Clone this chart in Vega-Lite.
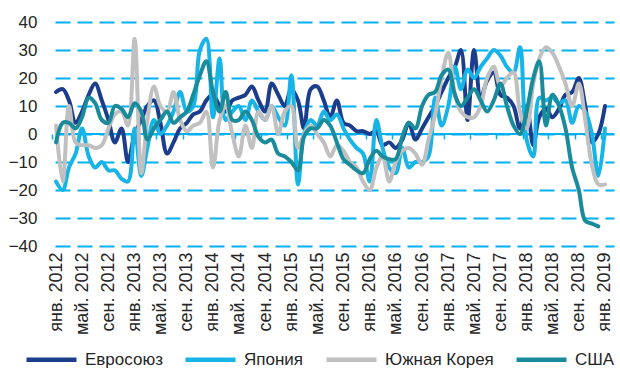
{
 "$schema": "https://vega.github.io/schema/vega-lite/v6.json",
 "width": 559,
 "height": 224,
 "autosize": "none",
 "padding": {"left": 55, "top": 22, "right": 6, "bottom": 126},
 "background": "white",
 "config": {"font": "Liberation Sans", "view": {"stroke": null}},
 "data": {"values": [
{"m":"2012-01-01","s":"Евросоюз","v":15},{"m":"2012-02-01","s":"Евросоюз","v":16},{"m":"2012-03-01","s":"Евросоюз","v":12},{"m":"2012-04-01","s":"Евросоюз","v":4},{"m":"2012-05-01","s":"Евросоюз","v":8},{"m":"2012-06-01","s":"Евросоюз","v":14},{"m":"2012-07-01","s":"Евросоюз","v":18},{"m":"2012-08-01","s":"Евросоюз","v":12},{"m":"2012-09-01","s":"Евросоюз","v":5},{"m":"2012-10-01","s":"Евросоюз","v":-3},{"m":"2012-11-01","s":"Евросоюз","v":2},{"m":"2012-12-01","s":"Евросоюз","v":-10},
{"m":"2013-01-01","s":"Евросоюз","v":0},{"m":"2013-02-01","s":"Евросоюз","v":5},{"m":"2013-03-01","s":"Евросоюз","v":10},{"m":"2013-04-01","s":"Евросоюз","v":12},{"m":"2013-05-01","s":"Евросоюз","v":4},{"m":"2013-06-01","s":"Евросоюз","v":-7},{"m":"2013-07-01","s":"Евросоюз","v":-3},{"m":"2013-08-01","s":"Евросоюз","v":2},{"m":"2013-09-01","s":"Евросоюз","v":4},{"m":"2013-10-01","s":"Евросоюз","v":7},{"m":"2013-11-01","s":"Евросоюз","v":8},{"m":"2013-12-01","s":"Евросоюз","v":12},
{"m":"2014-01-01","s":"Евросоюз","v":14},{"m":"2014-02-01","s":"Евросоюз","v":10},{"m":"2014-03-01","s":"Евросоюз","v":8},{"m":"2014-04-01","s":"Евросоюз","v":12},{"m":"2014-05-01","s":"Евросоюз","v":13},{"m":"2014-06-01","s":"Евросоюз","v":14},{"m":"2014-07-01","s":"Евросоюз","v":17},{"m":"2014-08-01","s":"Евросоюз","v":12},{"m":"2014-09-01","s":"Евросоюз","v":8},{"m":"2014-10-01","s":"Евросоюз","v":18},{"m":"2014-11-01","s":"Евросоюз","v":14},{"m":"2014-12-01","s":"Евросоюз","v":10},
{"m":"2015-01-01","s":"Евросоюз","v":16},{"m":"2015-02-01","s":"Евросоюз","v":12},{"m":"2015-03-01","s":"Евросоюз","v":2},{"m":"2015-04-01","s":"Евросоюз","v":16},{"m":"2015-05-01","s":"Евросоюз","v":17},{"m":"2015-06-01","s":"Евросоюз","v":12},{"m":"2015-07-01","s":"Евросоюз","v":6},{"m":"2015-08-01","s":"Евросоюз","v":12},{"m":"2015-09-01","s":"Евросоюз","v":4},{"m":"2015-10-01","s":"Евросоюз","v":3},{"m":"2015-11-01","s":"Евросоюз","v":1},{"m":"2015-12-01","s":"Евросоюз","v":1},
{"m":"2016-01-01","s":"Евросоюз","v":0},{"m":"2016-02-01","s":"Евросоюз","v":1},{"m":"2016-03-01","s":"Евросоюз","v":-4},{"m":"2016-04-01","s":"Евросоюз","v":-3},{"m":"2016-05-01","s":"Евросоюз","v":-5},{"m":"2016-06-01","s":"Евросоюз","v":-2},{"m":"2016-07-01","s":"Евросоюз","v":4},{"m":"2016-08-01","s":"Евросоюз","v":-2},{"m":"2016-09-01","s":"Евросоюз","v":2},{"m":"2016-10-01","s":"Евросоюз","v":6},{"m":"2016-11-01","s":"Евросоюз","v":10},{"m":"2016-12-01","s":"Евросоюз","v":15},
{"m":"2017-01-01","s":"Евросоюз","v":20},{"m":"2017-02-01","s":"Евросоюз","v":24},{"m":"2017-03-01","s":"Евросоюз","v":30},{"m":"2017-04-01","s":"Евросоюз","v":5},{"m":"2017-05-01","s":"Евросоюз","v":30},{"m":"2017-06-01","s":"Евросоюз","v":13},{"m":"2017-07-01","s":"Евросоюз","v":19},{"m":"2017-08-01","s":"Евросоюз","v":22},{"m":"2017-09-01","s":"Евросоюз","v":14},{"m":"2017-10-01","s":"Евросоюз","v":13},{"m":"2017-11-01","s":"Евросоюз","v":10},{"m":"2017-12-01","s":"Евросоюз","v":2},
{"m":"2018-01-01","s":"Евросоюз","v":10},{"m":"2018-02-01","s":"Евросоюз","v":-4},{"m":"2018-03-01","s":"Евросоюз","v":6},{"m":"2018-04-01","s":"Евросоюз","v":9},{"m":"2018-05-01","s":"Евросоюз","v":6},{"m":"2018-06-01","s":"Евросоюз","v":9},{"m":"2018-07-01","s":"Евросоюз","v":14},{"m":"2018-08-01","s":"Евросоюз","v":15},{"m":"2018-09-01","s":"Евросоюз","v":20},{"m":"2018-10-01","s":"Евросоюз","v":10},{"m":"2018-11-01","s":"Евросоюз","v":-3},{"m":"2018-12-01","s":"Евросоюз","v":0},{"m":"2019-01-01","s":"Евросоюз","v":10},

{"m":"2012-01-01","s":"Япония","v":-17},{"m":"2012-02-01","s":"Япония","v":-20},{"m":"2012-03-01","s":"Япония","v":-12},{"m":"2012-04-01","s":"Япония","v":-7},{"m":"2012-05-01","s":"Япония","v":2},{"m":"2012-06-01","s":"Япония","v":-8},{"m":"2012-07-01","s":"Япония","v":-12},{"m":"2012-08-01","s":"Япония","v":-10},{"m":"2012-09-01","s":"Япония","v":-13},{"m":"2012-10-01","s":"Япония","v":-13},{"m":"2012-11-01","s":"Япония","v":-16},{"m":"2012-12-01","s":"Япония","v":-17},
{"m":"2013-01-01","s":"Япония","v":2},{"m":"2013-02-01","s":"Япония","v":-15},{"m":"2013-03-01","s":"Япония","v":-5},{"m":"2013-04-01","s":"Япония","v":5},{"m":"2013-05-01","s":"Япония","v":0},{"m":"2013-06-01","s":"Япония","v":3},{"m":"2013-07-01","s":"Япония","v":8},{"m":"2013-08-01","s":"Япония","v":15},{"m":"2013-09-01","s":"Япония","v":8},{"m":"2013-10-01","s":"Япония","v":10},{"m":"2013-11-01","s":"Япония","v":30},{"m":"2013-12-01","s":"Япония","v":34},
{"m":"2014-01-01","s":"Япония","v":6},{"m":"2014-02-01","s":"Япония","v":27},{"m":"2014-03-01","s":"Япония","v":5},{"m":"2014-04-01","s":"Япония","v":8},{"m":"2014-05-01","s":"Япония","v":10},{"m":"2014-06-01","s":"Япония","v":5},{"m":"2014-07-01","s":"Япония","v":12},{"m":"2014-08-01","s":"Япония","v":8},{"m":"2014-09-01","s":"Япония","v":5},{"m":"2014-10-01","s":"Япония","v":10},{"m":"2014-11-01","s":"Япония","v":6},{"m":"2014-12-01","s":"Япония","v":3},
{"m":"2015-01-01","s":"Япония","v":21},{"m":"2015-02-01","s":"Япония","v":-18},{"m":"2015-03-01","s":"Япония","v":0},{"m":"2015-04-01","s":"Япония","v":5},{"m":"2015-05-01","s":"Япония","v":3},{"m":"2015-06-01","s":"Япония","v":8},{"m":"2015-07-01","s":"Япония","v":5},{"m":"2015-08-01","s":"Япония","v":7},{"m":"2015-09-01","s":"Япония","v":2},{"m":"2015-10-01","s":"Япония","v":-2},{"m":"2015-11-01","s":"Япония","v":-5},{"m":"2015-12-01","s":"Япония","v":-7},
{"m":"2016-01-01","s":"Япония","v":-17},{"m":"2016-02-01","s":"Япония","v":5},{"m":"2016-03-01","s":"Япония","v":-5},{"m":"2016-04-01","s":"Япония","v":-12},{"m":"2016-05-01","s":"Япония","v":-14},{"m":"2016-06-01","s":"Япония","v":-5},{"m":"2016-07-01","s":"Япония","v":-12},{"m":"2016-08-01","s":"Япония","v":-10},{"m":"2016-09-01","s":"Япония","v":-10},{"m":"2016-10-01","s":"Япония","v":-8},{"m":"2016-11-01","s":"Япония","v":13},{"m":"2016-12-01","s":"Япония","v":3},
{"m":"2017-01-01","s":"Япония","v":10},{"m":"2017-02-01","s":"Япония","v":24},{"m":"2017-03-01","s":"Япония","v":16},{"m":"2017-04-01","s":"Япония","v":23},{"m":"2017-05-01","s":"Япония","v":20},{"m":"2017-06-01","s":"Япония","v":24},{"m":"2017-07-01","s":"Япония","v":27},{"m":"2017-08-01","s":"Япония","v":30},{"m":"2017-09-01","s":"Япония","v":28},{"m":"2017-10-01","s":"Япония","v":24},{"m":"2017-11-01","s":"Япония","v":22},{"m":"2017-12-01","s":"Япония","v":31},
{"m":"2018-01-01","s":"Япония","v":-2},{"m":"2018-02-01","s":"Япония","v":-8},{"m":"2018-03-01","s":"Япония","v":13},{"m":"2018-04-01","s":"Япония","v":12},{"m":"2018-05-01","s":"Япония","v":13},{"m":"2018-06-01","s":"Япония","v":11},{"m":"2018-07-01","s":"Япония","v":12},{"m":"2018-08-01","s":"Япония","v":4},{"m":"2018-09-01","s":"Япония","v":10},{"m":"2018-10-01","s":"Япония","v":8},{"m":"2018-11-01","s":"Япония","v":0},{"m":"2018-12-01","s":"Япония","v":-15},{"m":"2019-01-01","s":"Япония","v":2},

{"m":"2012-01-01","s":"Южная Корея","v":3},{"m":"2012-02-01","s":"Южная Корея","v":-17},{"m":"2012-03-01","s":"Южная Корея","v":10},{"m":"2012-04-01","s":"Южная Корея","v":-3},{"m":"2012-05-01","s":"Южная Корея","v":-4},{"m":"2012-06-01","s":"Южная Корея","v":-4},{"m":"2012-07-01","s":"Южная Корея","v":-5},{"m":"2012-08-01","s":"Южная Корея","v":-4},{"m":"2012-09-01","s":"Южная Корея","v":2},{"m":"2012-10-01","s":"Южная Корея","v":7},{"m":"2012-11-01","s":"Южная Корея","v":8},{"m":"2012-12-01","s":"Южная Корея","v":3},
{"m":"2013-01-01","s":"Южная Корея","v":34},{"m":"2013-02-01","s":"Южная Корея","v":-14},{"m":"2013-03-01","s":"Южная Корея","v":5},{"m":"2013-04-01","s":"Южная Корея","v":17},{"m":"2013-05-01","s":"Южная Корея","v":10},{"m":"2013-06-01","s":"Южная Корея","v":8},{"m":"2013-07-01","s":"Южная Корея","v":15},{"m":"2013-08-01","s":"Южная Корея","v":5},{"m":"2013-09-01","s":"Южная Корея","v":1},{"m":"2013-10-01","s":"Южная Корея","v":3},{"m":"2013-11-01","s":"Южная Корея","v":4},{"m":"2013-12-01","s":"Южная Корея","v":8},
{"m":"2014-01-01","s":"Южная Корея","v":-12},{"m":"2014-02-01","s":"Южная Корея","v":5},{"m":"2014-03-01","s":"Южная Корея","v":10},{"m":"2014-04-01","s":"Южная Корея","v":0},{"m":"2014-05-01","s":"Южная Корея","v":-8},{"m":"2014-06-01","s":"Южная Корея","v":3},{"m":"2014-07-01","s":"Южная Корея","v":-5},{"m":"2014-08-01","s":"Южная Корея","v":8},{"m":"2014-09-01","s":"Южная Корея","v":5},{"m":"2014-10-01","s":"Южная Корея","v":10},{"m":"2014-11-01","s":"Южная Корея","v":0},{"m":"2014-12-01","s":"Южная Корея","v":8},
{"m":"2015-01-01","s":"Южная Корея","v":10},{"m":"2015-02-01","s":"Южная Корея","v":-5},{"m":"2015-03-01","s":"Южная Корея","v":0},{"m":"2015-04-01","s":"Южная Корея","v":3},{"m":"2015-05-01","s":"Южная Корея","v":0},{"m":"2015-06-01","s":"Южная Корея","v":-3},{"m":"2015-07-01","s":"Южная Корея","v":-8},{"m":"2015-08-01","s":"Южная Корея","v":-4},{"m":"2015-09-01","s":"Южная Корея","v":-6},{"m":"2015-10-01","s":"Южная Корея","v":-10},{"m":"2015-11-01","s":"Южная Корея","v":-12},{"m":"2015-12-01","s":"Южная Корея","v":-17},
{"m":"2016-01-01","s":"Южная Корея","v":-20},{"m":"2016-02-01","s":"Южная Корея","v":-12},{"m":"2016-03-01","s":"Южная Корея","v":-8},{"m":"2016-04-01","s":"Южная Корея","v":-17},{"m":"2016-05-01","s":"Южная Корея","v":-10},{"m":"2016-06-01","s":"Южная Корея","v":-6},{"m":"2016-07-01","s":"Южная Корея","v":-5},{"m":"2016-08-01","s":"Южная Корея","v":-7},{"m":"2016-09-01","s":"Южная Корея","v":-11},{"m":"2016-10-01","s":"Южная Корея","v":-2},{"m":"2016-11-01","s":"Южная Корея","v":7},{"m":"2016-12-01","s":"Южная Корея","v":20},
{"m":"2017-01-01","s":"Южная Корея","v":29},{"m":"2017-02-01","s":"Южная Корея","v":14},{"m":"2017-03-01","s":"Южная Корея","v":8},{"m":"2017-04-01","s":"Южная Корея","v":6},{"m":"2017-05-01","s":"Южная Корея","v":6},{"m":"2017-06-01","s":"Южная Корея","v":10},{"m":"2017-07-01","s":"Южная Корея","v":20},{"m":"2017-08-01","s":"Южная Корея","v":24},{"m":"2017-09-01","s":"Южная Корея","v":17},{"m":"2017-10-01","s":"Южная Корея","v":20},{"m":"2017-11-01","s":"Южная Корея","v":22},{"m":"2017-12-01","s":"Южная Корея","v":8},
{"m":"2018-01-01","s":"Южная Корея","v":2},{"m":"2018-02-01","s":"Южная Корея","v":18},{"m":"2018-03-01","s":"Южная Корея","v":27},{"m":"2018-04-01","s":"Южная Корея","v":31},{"m":"2018-05-01","s":"Южная Корея","v":29},{"m":"2018-06-01","s":"Южная Корея","v":24},{"m":"2018-07-01","s":"Южная Корея","v":18},{"m":"2018-08-01","s":"Южная Корея","v":10},{"m":"2018-09-01","s":"Южная Корея","v":18},{"m":"2018-10-01","s":"Южная Корея","v":5},{"m":"2018-11-01","s":"Южная Корея","v":-11},{"m":"2018-12-01","s":"Южная Корея","v":-18},{"m":"2019-01-01","s":"Южная Корея","v":-18},

{"m":"2012-01-01","s":"США","v":-3},{"m":"2012-02-01","s":"США","v":4},{"m":"2012-03-01","s":"США","v":4},{"m":"2012-04-01","s":"США","v":2},{"m":"2012-05-01","s":"США","v":6},{"m":"2012-06-01","s":"США","v":13},{"m":"2012-07-01","s":"США","v":11},{"m":"2012-08-01","s":"США","v":5},{"m":"2012-09-01","s":"США","v":4},{"m":"2012-10-01","s":"США","v":10},{"m":"2012-11-01","s":"США","v":9},{"m":"2012-12-01","s":"США","v":6},
{"m":"2013-01-01","s":"США","v":11},{"m":"2013-02-01","s":"США","v":8},{"m":"2013-03-01","s":"США","v":-2},{"m":"2013-04-01","s":"США","v":2},{"m":"2013-05-01","s":"США","v":5},{"m":"2013-06-01","s":"США","v":8},{"m":"2013-07-01","s":"США","v":4},{"m":"2013-08-01","s":"США","v":6},{"m":"2013-09-01","s":"США","v":8},{"m":"2013-10-01","s":"США","v":14},{"m":"2013-11-01","s":"США","v":21},{"m":"2013-12-01","s":"США","v":26},
{"m":"2014-01-01","s":"США","v":15},{"m":"2014-02-01","s":"США","v":8},{"m":"2014-03-01","s":"США","v":15},{"m":"2014-04-01","s":"США","v":5},{"m":"2014-05-01","s":"США","v":5},{"m":"2014-06-01","s":"США","v":8},{"m":"2014-07-01","s":"США","v":5},{"m":"2014-08-01","s":"США","v":-1},{"m":"2014-09-01","s":"США","v":-3},{"m":"2014-10-01","s":"США","v":-2},{"m":"2014-11-01","s":"США","v":-7},{"m":"2014-12-01","s":"США","v":-8},
{"m":"2015-01-01","s":"США","v":-10},{"m":"2015-02-01","s":"США","v":-13},{"m":"2015-03-01","s":"США","v":-1},{"m":"2015-04-01","s":"США","v":2},{"m":"2015-05-01","s":"США","v":2},{"m":"2015-06-01","s":"США","v":5},{"m":"2015-07-01","s":"США","v":3},{"m":"2015-08-01","s":"США","v":-3},{"m":"2015-09-01","s":"США","v":-9},{"m":"2015-10-01","s":"США","v":-11},{"m":"2015-11-01","s":"США","v":-13},{"m":"2015-12-01","s":"США","v":-14},
{"m":"2016-01-01","s":"США","v":-9},{"m":"2016-02-01","s":"США","v":-6},{"m":"2016-03-01","s":"США","v":-8},{"m":"2016-04-01","s":"США","v":-9},{"m":"2016-05-01","s":"США","v":-9},{"m":"2016-06-01","s":"США","v":-1},{"m":"2016-07-01","s":"США","v":4},{"m":"2016-08-01","s":"США","v":2},{"m":"2016-09-01","s":"США","v":10},{"m":"2016-10-01","s":"США","v":14},{"m":"2016-11-01","s":"США","v":15},{"m":"2016-12-01","s":"США","v":21},
{"m":"2017-01-01","s":"США","v":23},{"m":"2017-02-01","s":"США","v":14},{"m":"2017-03-01","s":"США","v":10},{"m":"2017-04-01","s":"США","v":13},{"m":"2017-05-01","s":"США","v":16},{"m":"2017-06-01","s":"США","v":12},{"m":"2017-07-01","s":"США","v":8},{"m":"2017-08-01","s":"США","v":12},{"m":"2017-09-01","s":"США","v":18},{"m":"2017-10-01","s":"США","v":10},{"m":"2017-11-01","s":"США","v":3},{"m":"2017-12-01","s":"США","v":0},
{"m":"2018-01-01","s":"США","v":8},{"m":"2018-02-01","s":"США","v":20},{"m":"2018-03-01","s":"США","v":26},{"m":"2018-04-01","s":"США","v":3},{"m":"2018-05-01","s":"США","v":14},{"m":"2018-06-01","s":"США","v":10},{"m":"2018-07-01","s":"США","v":2},{"m":"2018-08-01","s":"США","v":-12},{"m":"2018-09-01","s":"США","v":-20},{"m":"2018-10-01","s":"США","v":-31},{"m":"2018-11-01","s":"США","v":-32},{"m":"2018-12-01","s":"США","v":-33}
 ]},
 "resolve": {"axis": {"x": "independent"}},
 "layer": [
  {
   "mark": {"type": "rule", "color": "#00B0F0", "strokeWidth": 1.8},
   "encoding": {"y": {"datum": 0, "type": "quantitative", "scale": {"domain": [-40, 40], "nice": false},
      "axis": {"values": [-40, -30, -20, -10, 0, 10, 20, 30, 40], "grid": true, "gridColor": "#00B0F0", "gridDash": [15, 7], "gridWidth": 2, "domain": false, "ticks": false, "labelPadding": 18, "labelFontSize": 17, "labelColor": "#262626", "title": null}}}
  },
  {
   "mark": {"type": "point", "opacity": 0},
   "encoding": {
    "x": {"field": "m", "type": "temporal",
      "scale": {"type": "utc", "domain": [{"year": 2011, "month": 12, "date": 27, "utc": true}, {"year": 2019, "month": 2, "date": 12, "utc": true}]},
      "axis": {"orient": "top", "offset": -117, "labels": false, "domain": false, "grid": false, "ticks": true, "tickSize": 5, "tickWidth": 1.5, "tickColor": "#00B0F0", "tickOffset": -4, "title": null, "tickCount": {"interval": "month", "step": 4}}}
   }
  },
  {
   "mark": {"type": "line", "strokeWidth": 4, "interpolate": "catmull-rom", "strokeCap": "round", "strokeJoin": "round"},
   "encoding": {
    "x": {"field": "m", "type": "temporal",
      "scale": {"type": "utc", "domain": [{"year": 2011, "month": 12, "date": 27, "utc": true}, {"year": 2019, "month": 2, "date": 12, "utc": true}]},
      "axis": {"orient": "bottom", "grid": false, "domain": false, "ticks": false, "labelAngle": -90, "labelPadding": 6, "labelFontSize": 18, "labelColor": "#262626", "labelOverlap": false, "labelBound": false, "labelFlush": false, "title": null,
        "tickCount": {"interval": "month", "step": 4},
        "labelExpr": "['янв.','фев.','мар.','апр.','май.','июн.','июл.','авг.','сен.','окт.','ноя.','дек.'][utcmonth(datum.value)] + ' ' + utcyear(datum.value)"}},
    "y": {"field": "v", "type": "quantitative", "scale": {"domain": [-40, 40], "nice": false},
      "axis": {"values": [-40, -30, -20, -10, 0, 10, 20, 30, 40], "grid": true, "gridColor": "#00B0F0", "gridDash": [15, 7], "gridWidth": 2, "domain": false, "ticks": false, "labelPadding": 18, "labelFontSize": 17, "labelColor": "#262626", "title": null}},
    "color": {"field": "s", "type": "nominal", "sort": null,
      "scale": {"domain": ["Евросоюз", "Япония", "Южная Корея", "США"], "range": ["#1c3d8c", "#18b4e8", "#c0c0c0", "#198b9b"]},
      "legend": {"orient": "none", "legendX": -31, "legendY": 310, "direction": "horizontal", "title": null, "symbolType": "stroke", "symbolStrokeWidth": 4.5, "symbolSize": 2500, "labelFontSize": 17, "labelColor": "#262626", "columnPadding": 13, "labelOffset": 6}}
   }
  }
 ]
}
